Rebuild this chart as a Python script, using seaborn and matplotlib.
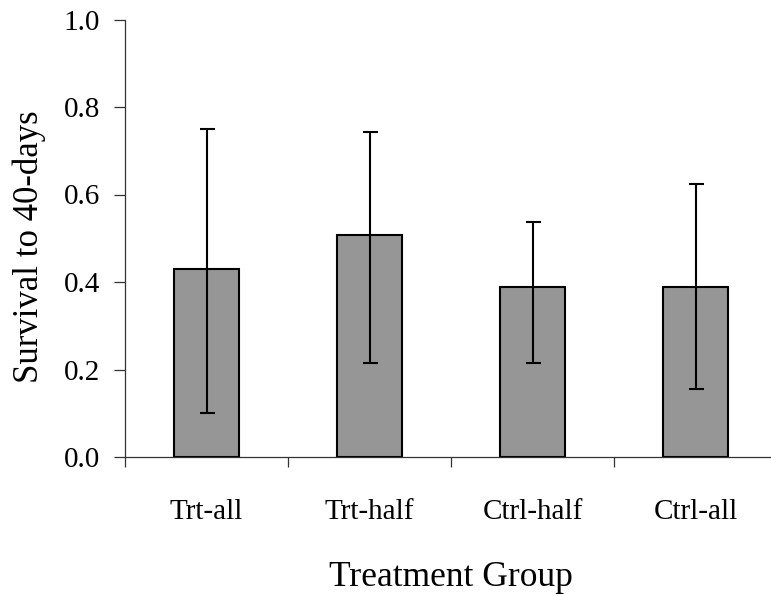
import numpy as np
import matplotlib
matplotlib.use("Agg")
import matplotlib.pyplot as plt
import seaborn as sns

groups = ["Trt-all", "Trt-half", "Ctrl-half", "Ctrl-all"]
survival = [0.429, 0.507, 0.388, 0.388]
err_low = [0.100, 0.214, 0.214, 0.155]
err_high = [0.749, 0.744, 0.538, 0.625]
y_ticks = [0.0, 0.2, 0.4, 0.6, 0.8, 1.0]

sns.set_theme(style="white")
plt.rcParams["font.family"] = ["Liberation Serif", "DejaVu Serif"]
plt.rcParams["text.color"] = "black"
plt.rcParams["axes.labelcolor"] = "black"
plt.rcParams["xtick.labelcolor"] = "black"
plt.rcParams["ytick.labelcolor"] = "black"

fig = plt.figure(figsize=(7.71, 5.96), dpi=100)
ax = fig.add_axes([125 / 771, 139 / 596, 652 / 771, 437.5 / 596])

sns.barplot(x=groups, y=survival, color="#969696", saturation=1,
            edgecolor="black", linewidth=1.5, width=0.4, errorbar=None, ax=ax)

# asymmetric error bars
means = np.array(survival)
yerr = [means - np.array(err_low), np.array(err_high) - means]
ax.errorbar(np.arange(len(groups)), means, yerr=yerr, fmt="none",
            ecolor="black", elinewidth=1.5, capsize=5.4, capthick=1.5, zorder=5)

ax.set_xlim(-0.5, len(groups) - 0.5)
ax.set_ylim(0, 1.0)
ax.set_yticks(y_ticks)
ax.set_yticklabels([f"{v:.1f}" for v in y_ticks])
ax.set_xticks(range(len(groups)))
ax.set_xticklabels(groups)
ax.set_xticks(np.arange(-0.5, len(groups), 1.0), minor=True)

for side in ["top", "right"]:
    ax.spines[side].set_visible(False)
for side in ["left", "bottom"]:
    ax.spines[side].set_color("#333333")
    ax.spines[side].set_linewidth(0.9)

ax.tick_params(axis="y", which="major", direction="out", length=8, width=0.9,
               color="#333333", labelsize=21, pad=10, left=True)
ax.tick_params(axis="x", which="major", length=0, labelsize=21, pad=30)
ax.tick_params(axis="x", which="minor", direction="out", length=7.5, width=0.9,
               color="#333333", bottom=True)

ax.set_xlabel("Treatment Group", fontsize=25.5, labelpad=26)
ax.set_ylabel("Survival to 40-days", fontsize=25, labelpad=13)
ax.yaxis.label.set_y(0.48)

fig.savefig("out.png", dpi=100)
